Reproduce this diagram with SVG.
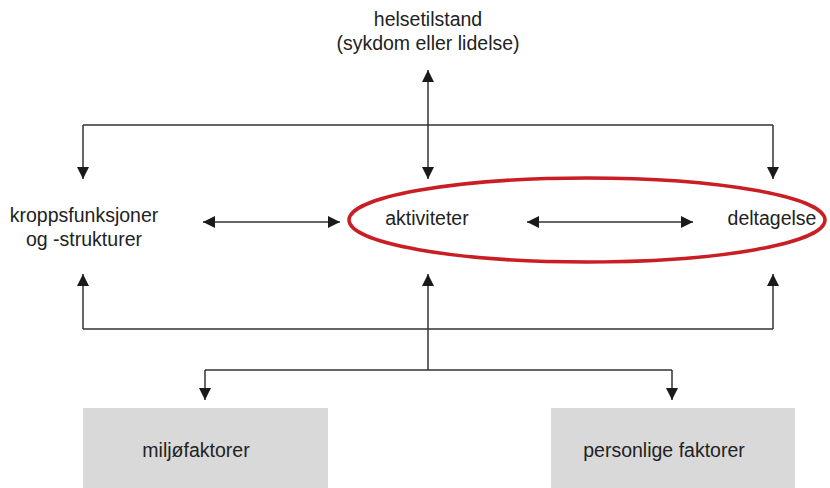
<svg xmlns="http://www.w3.org/2000/svg" width="830" height="488" viewBox="0 0 830 488">
<defs>
<marker id="ah" viewBox="0 0 10 10" refX="10" refY="5" markerWidth="12" markerHeight="12" markerUnits="userSpaceOnUse" orient="auto-start-reverse">
<path d="M0,0 L10,5 L0,10 z" fill="#1a1a1a"/>
</marker>
<style>
text{font-family:"Liberation Sans",Arial,sans-serif;font-size:19.5px;fill:#222;text-anchor:middle}
.c{fill:none;stroke:#333;stroke-width:1.5}
.box{fill:#d9d9d9}
</style>
</defs>
<rect width="830" height="488" fill="#fff"/>
<g id="connectors">
<path class="c" d="M83,125 H773" />
<path class="c" d="M83,125 V179" marker-end="url(#ah)"/>
<path class="c" d="M773,125 V179" marker-end="url(#ah)"/>
<path class="c" d="M428,70 V179" marker-start="url(#ah)" marker-end="url(#ah)"/>
<path class="c" d="M203,222 H340" marker-start="url(#ah)" marker-end="url(#ah)"/>
<path class="c" d="M527,222 H693" marker-start="url(#ah)" marker-end="url(#ah)"/>
<path class="c" d="M83,329 H773"/>
<path class="c" d="M83,329 V274" marker-end="url(#ah)"/>
<path class="c" d="M773,329 V274" marker-end="url(#ah)"/>
<path class="c" d="M428,370 V274" marker-end="url(#ah)"/>
<path class="c" d="M205,370 H672"/>
<path class="c" d="M205,370 V400" marker-end="url(#ah)"/>
<path class="c" d="M672,370 V400" marker-end="url(#ah)"/>
</g>
<g id="helsetilstand">
<text x="428" y="26">helsetilstand</text>
<text x="428" y="50">(sykdom eller lidelse)</text>
</g>
<g id="kroppsfunksjoner">
<text x="84" y="222">kroppsfunksjoner</text>
<text x="84" y="246">og -strukturer</text>
</g>
<g id="highlight">
<ellipse cx="587" cy="220" rx="238" ry="42" fill="none" stroke="#c81e24" stroke-width="3.5"/>
</g>
<g id="aktiviteter">
<text x="427" y="225">aktiviteter</text>
</g>
<g id="deltagelse">
<text x="772" y="225">deltagelse</text>
</g>
<g id="miljofaktorer">
<rect class="box" x="83" y="408" width="245" height="80"/>
<text x="196" y="457">miljøfaktorer</text>
</g>
<g id="personlige">
<rect class="box" x="551" y="408" width="244" height="80"/>
<text x="664" y="457">personlige faktorer</text>
</g>
</svg>
